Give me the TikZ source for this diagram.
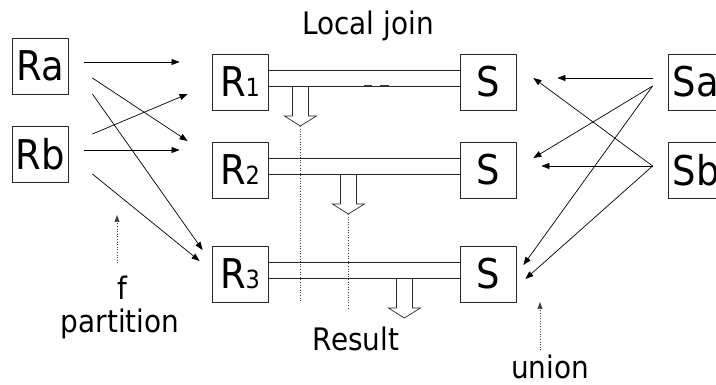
\documentclass[tikz,border=0pt]{standalone}
\usepackage{fontspec}
\setmainfont[FakeStretch=0.9]{DejaVu Sans}
\usetikzlibrary{arrows.meta}
\newcommand\Rlab[1]{R{\fontsize{25pt}{25pt}\selectfont #1}}
\begin{document}
\begin{tikzpicture}[x=1pt,y=-1pt,
  box/.style={draw=black!85,line width=0.8pt,minimum width=56pt,minimum height=56pt,inner sep=0pt,font=\fontsize{41pt}{41pt}\selectfont},
  arr/.style={-{Triangle[length=8pt,width=6pt]},line width=0.7pt},
  bar/.style={line width=0.8pt,black!85},
  lab/.style={font=\fontsize{31pt}{31pt}\selectfont,inner sep=0pt,anchor=base},
  dots/.style={dotted,line width=0.6pt,black!75},
  result/.style={draw=black!85,line width=0.7pt,fill=white}]
\useasboundingbox (0,0) rectangle (716,385);
% boxes
\node[box] (Ra) at (40,66) {Ra};
\node[box] (Rb) at (40,154) {Rb};
\node[box] (R1) at (240,82) {\Rlab{1}};
\node[box] (R2) at (240,170) {\Rlab{2}};
\node[box] (R3) at (240,274) {\Rlab{3}};
\node[box] (S1) at (488,82) {S};
\node[box] (S2) at (488,170) {S};
\node[box] (S3) at (488,274) {S};
\node[box] (Sa) at (696,82) {Sa};
\node[box] (Sb) at (696,170) {Sb};
% result arrows
\coordinate (o1) at ([shift={(32,4)}]R1.east);
\coordinate (o2) at ([shift={(80,4)}]R2.east);
\coordinate (o3) at ([shift={(136,4)}]R3.east);
\foreach \o in {o1,o2,o3}{
  \draw[result] ([shift={(-8,0)}]\o) -- ++(0,30) -- ++(-8,0) -- ++(16,10) -- ++(16,-10) -- ++(-8,0) -- ++(0,-30);
}
\draw[dots] ([shift={(0,40)}]o1) -- (o1 |- R3.south);
\draw[dots] ([shift={(0,40)}]o2) -- ++(0,95);
% bars
\foreach \r/\s in {R1/S1,R2/S2,R3/S3}{
  \draw[bar] ([shift={(0,-12)}]\r.east) -- ([shift={(0,-12)}]\s.west);
  \draw[bar] ([shift={(0,4)}]\r.east) -- ([shift={(0,4)}]\s.west);
}
\draw[line width=1.4pt,black!80] (364,86) -- (372,86) (380,86) -- (389,86);
% left arrows
\draw[arr] ([shift={(16,-4)}]Ra.east) -- ([shift={(-32,-20)}]R1.west);
\draw[arr] ([shift={(24,12)}]Ra.east) -- ([shift={(-24,-29)}]R2.west);
\draw[arr] ([shift={(24,28)}]Ra.east) -- ([shift={(-9,-24)}]R3.west);
\draw[arr] ([shift={(24,-20)}]Rb.east) -- ([shift={(-24,12)}]R1.west);
\draw[arr] ([shift={(16,-4)}]Rb.east) -- ([shift={(-32,-20)}]R2.west);
\draw[arr] ([shift={(24,20)}]Rb.east) -- ([shift={(-12,-13)}]R3.west);
% right arrows
\draw[arr] ([shift={(-15,-4)}]Sa.west) -- ([shift={(41,-4)}]S1.east);
\draw[arr] ([shift={(-15,4)}]Sa.west) -- ([shift={(17,-12)}]S2.east);
\draw[arr] ([shift={(-15,4)}]Sa.west) -- ([shift={(7,-9)}]S3.east);
\draw[arr] ([shift={(-15,-4)}]Sb.west) -- ([shift={(17,-4)}]S1.east);
\draw[arr] ([shift={(-15,-4)}]Sb.west) -- ([shift={(25,-4)}]S2.east);
\draw[arr] ([shift={(-15,-4)}]Sb.west) -- ([shift={(9,5)}]S3.east);
% labels
\node[lab] (lj) at (368,35) {Local join};
\node[lab] (f) at (122,300) {f};
\node[lab] (part) at (120,333) {partition};
\node[lab] (res) at (356,350) {Result};
\node[lab] (un) at (550,378) {union};
\draw[dots,-{Triangle[length=7pt,width=5pt]}] ([shift={(-5,-37)}]f.base) -- ++(0,-48);
\draw[dots,-{Triangle[length=7pt,width=5pt]}] ([shift={(-10,-28)}]un.base) -- ++(0,-48);
\end{tikzpicture}
\end{document}
